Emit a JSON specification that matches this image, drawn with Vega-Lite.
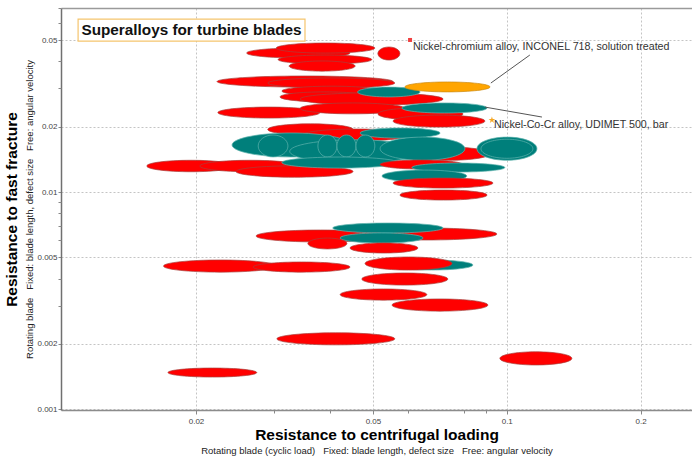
{
  "$schema": "https://vega.github.io/schema/vega-lite/v6.json",
  "width": 631,
  "height": 402,
  "autosize": {"type": "none"},
  "padding": {"left": 61, "top": 8, "right": 0, "bottom": 48},
  "background": "white",
  "config": {
    "font": "Liberation Sans",
    "view": {"stroke": null},
    "axis": {"domain": false, "labelFont": "Liberation Sans", "titleFont": "Liberation Sans"}
  },
  "datasets": {
    "alloys": [
      {"group": "Nickel-chromium alloy", "xlo": 0.0260, "xhi": 0.0444, "ylo": 0.0414, "yhi": 0.0460},
      {"group": "Nickel-chromium alloy", "xlo": 0.0303, "xhi": 0.0505, "ylo": 0.0436, "yhi": 0.0485},
      {"group": "Nickel-chromium alloy", "xlo": 0.0306, "xhi": 0.0497, "ylo": 0.0388, "yhi": 0.0427},
      {"group": "Nickel-chromium alloy", "xlo": 0.0324, "xhi": 0.0456, "ylo": 0.0360, "yhi": 0.0401},
      {"group": "Nickel-chromium alloy", "xlo": 0.0513, "xhi": 0.0575, "ylo": 0.0405, "yhi": 0.0465},
      {"group": "Nickel-chromium alloy", "xlo": 0.0223, "xhi": 0.0555, "ylo": 0.0304, "yhi": 0.0342},
      {"group": "Nickel-chromium alloy", "xlo": 0.0290, "xhi": 0.0560, "ylo": 0.0301, "yhi": 0.0335},
      {"group": "Nickel-chromium alloy", "xlo": 0.0312, "xhi": 0.0524, "ylo": 0.0277, "yhi": 0.0307},
      {"group": "Nickel-chromium alloy", "xlo": 0.0309, "xhi": 0.0492, "ylo": 0.0260, "yhi": 0.0289},
      {"group": "Nickel-chromium alloy", "xlo": 0.0343, "xhi": 0.0719, "ylo": 0.0251, "yhi": 0.0286},
      {"group": "Nickel-Co-Cr alloy", "xlo": 0.0462, "xhi": 0.0638, "ylo": 0.0274, "yhi": 0.0304},
      {"group": "Nickel-chromium alloy", "xlo": 0.0224, "xhi": 0.0380, "ylo": 0.0219, "yhi": 0.0246},
      {"group": "Nickel-chromium alloy", "xlo": 0.0343, "xhi": 0.0590, "ylo": 0.0229, "yhi": 0.0257},
      {"group": "Nickel-chromium alloy", "xlo": 0.0513, "xhi": 0.0797, "ylo": 0.02145, "yhi": 0.0244},
      {"group": "Nickel-chromium alloy", "xlo": 0.0555, "xhi": 0.0893, "ylo": 0.0199, "yhi": 0.0226},
      {"group": "Nickel-Co-Cr alloy", "xlo": 0.0581, "xhi": 0.0903, "ylo": 0.0231, "yhi": 0.0257},
      {"group": "Nickel-chromium alloy", "xlo": 0.0290, "xhi": 0.0451, "ylo": 0.0183, "yhi": 0.0206},
      {"group": "Nickel-chromium alloy", "xlo": 0.0348, "xhi": 0.0606, "ylo": 0.0172, "yhi": 0.0195},
      {"group": "Nickel-Co-Cr alloy", "xlo": 0.0468, "xhi": 0.0708, "ylo": 0.0177, "yhi": 0.0197},
      {"group": "Nickel-chromium alloy", "xlo": 0.0155, "xhi": 0.0245, "ylo": 0.0124, "yhi": 0.0140},
      {"group": "Nickel-chromium alloy", "xlo": 0.0204, "xhi": 0.0343, "ylo": 0.0124, "yhi": 0.0140},
      {"group": "Nickel-chromium alloy", "xlo": 0.0246, "xhi": 0.0451, "ylo": 0.0117, "yhi": 0.0132},
      {"group": "Nickel-Co-Cr alloy", "xlo": 0.0241, "xhi": 0.0444, "ylo": 0.0145, "yhi": 0.0187},
      {"group": "Nickel-Co-Cr alloy", "xlo": 0.0325, "xhi": 0.0638, "ylo": 0.0136, "yhi": 0.0174},
      {"group": "Nickel-Co-Cr alloy", "xlo": 0.0276, "xhi": 0.0322, "ylo": 0.0145, "yhi": 0.0183},
      {"group": "Nickel-Co-Cr alloy", "xlo": 0.0376, "xhi": 0.0415, "ylo": 0.0145, "yhi": 0.0183},
      {"group": "Nickel-Co-Cr alloy", "xlo": 0.0415, "xhi": 0.0458, "ylo": 0.0145, "yhi": 0.0183},
      {"group": "Nickel-Co-Cr alloy", "xlo": 0.0458, "xhi": 0.0505, "ylo": 0.0145, "yhi": 0.0183},
      {"group": "Nickel-Co-Cr alloy", "xlo": 0.0312, "xhi": 0.0569, "ylo": 0.01289, "yhi": 0.01449},
      {"group": "Nickel-chromium alloy", "xlo": 0.0596, "xhi": 0.0917, "ylo": 0.0140, "yhi": 0.0161},
      {"group": "Nickel-Co-Cr alloy", "xlo": 0.0519, "xhi": 0.0805, "ylo": 0.0140, "yhi": 0.0179},
      {"group": "Nickel-Co-Cr alloy", "xlo": 0.0857, "xhi": 0.1169, "ylo": 0.0140, "yhi": 0.0179},
      {"group": "Nickel-Co-Cr alloy", "xlo": 0.0875, "xhi": 0.1145, "ylo": 0.0143, "yhi": 0.0175},
      {"group": "Nickel-chromium alloy", "xlo": 0.0519, "xhi": 0.0797, "ylo": 0.01276, "yhi": 0.01404},
      {"group": "Nickel-Co-Cr alloy", "xlo": 0.0612, "xhi": 0.0990, "ylo": 0.01236, "yhi": 0.0136},
      {"group": "Nickel-Co-Cr alloy", "xlo": 0.0524, "xhi": 0.0813, "ylo": 0.01112, "yhi": 0.01262},
      {"group": "Nickel-chromium alloy", "xlo": 0.0555, "xhi": 0.0931, "ylo": 0.01043, "yhi": 0.0116},
      {"group": "Nickel-chromium alloy", "xlo": 0.0575, "xhi": 0.0903, "ylo": 0.009187, "yhi": 0.01021},
      {"group": "Nickel-chromium alloy", "xlo": 0.0273, "xhi": 0.0532, "ylo": 0.00589, "yhi": 0.006687},
      {"group": "Nickel-chromium alloy", "xlo": 0.0456, "xhi": 0.0950, "ylo": 0.006015, "yhi": 0.00683},
      {"group": "Nickel-Co-Cr alloy", "xlo": 0.0406, "xhi": 0.0719, "ylo": 0.00648, "yhi": 0.0072},
      {"group": "Nickel-Co-Cr alloy", "xlo": 0.0422, "xhi": 0.0648, "ylo": 0.00583, "yhi": 0.00648},
      {"group": "Nickel-chromium alloy", "xlo": 0.0357, "xhi": 0.0437, "ylo": 0.00547, "yhi": 0.00614},
      {"group": "Nickel-chromium alloy", "xlo": 0.0444, "xhi": 0.0631, "ylo": 0.00524, "yhi": 0.00583},
      {"group": "Nickel-chromium alloy", "xlo": 0.0169, "xhi": 0.0304, "ylo": 0.00428, "yhi": 0.004867},
      {"group": "Nickel-chromium alloy", "xlo": 0.0269, "xhi": 0.0444, "ylo": 0.00428, "yhi": 0.004765},
      {"group": "Nickel-Co-Cr alloy", "xlo": 0.0546, "xhi": 0.0839, "ylo": 0.004375, "yhi": 0.004867},
      {"group": "Nickel-chromium alloy", "xlo": 0.0480, "xhi": 0.0753, "ylo": 0.004375, "yhi": 0.005025},
      {"group": "Nickel-chromium alloy", "xlo": 0.0472, "xhi": 0.0737, "ylo": 0.00373, "yhi": 0.00424},
      {"group": "Nickel-chromium alloy", "xlo": 0.0422, "xhi": 0.0661, "ylo": 0.00318, "yhi": 0.00358},
      {"group": "Nickel-chromium alloy", "xlo": 0.0552, "xhi": 0.0907, "ylo": 0.00283, "yhi": 0.00322},
      {"group": "Nickel-chromium alloy", "xlo": 0.0304, "xhi": 0.0560, "ylo": 0.00198, "yhi": 0.00225},
      {"group": "Nickel-chromium alloy", "xlo": 0.0965, "xhi": 0.1401, "ylo": 0.0016, "yhi": 0.00184},
      {"group": "Nickel-chromium alloy", "xlo": 0.0173, "xhi": 0.0274, "ylo": 0.001408, "yhi": 0.001549},
      {"group": "Selected: INCONEL 718", "xlo": 0.0590, "xhi": 0.0917, "ylo": 0.0289, "yhi": 0.0321}
    ],
    "leaders": [
      {"label": "INCONEL 718", "x": 0.1127, "y": 0.04271, "x2": 0.0921, "y2": 0.03174},
      {"label": "UDIMET 500", "x": 0.1200, "y": 0.02214, "x2": 0.0893, "y2": 0.0246}
    ],
    "markers": [
      {"label": "INCONEL 718", "x": 0.0606, "y": 0.0501},
      {"label": "UDIMET 500", "x": 0.0926, "y": 0.02145}
    ],
    "labels": [
      {"text": "Nickel-chromium alloy, INCONEL 718, solution treated", "x": 0.0615, "y": 0.0465},
      {"text": "Nickel-Co-Cr alloy, UDIMET 500, bar", "x": 0.0936, "y": 0.02034}
    ],
    "titlebox": [
      {"title": "Superalloys for turbine blades", "xlo": 0.01086, "xhi": 0.03517, "ylo": 0.04953, "yhi": 0.06253, "tx": 0.01954, "ty": 0.05567}
    ]
  },
  "layer": [
    {
      "data": {"name": "alloys"},
      "mark": {
        "type": "point",
        "filled": true,
        "opacity": 1,
        "size": 4,
        "strokeWidth": 0.7,
        "shape": {"expr": "'M0,' + (scale('y',datum.ylo)-scale('y',datum.yhi))/2 + 'A' + (scale('x',datum.xhi)-scale('x',datum.xlo))/2 + ',' + (scale('y',datum.ylo)-scale('y',datum.yhi))/2 + ',0,1,0,' + (scale('x',datum.xhi)-scale('x',datum.xlo)) + ',' + (scale('y',datum.ylo)-scale('y',datum.yhi))/2 + 'A' + (scale('x',datum.xhi)-scale('x',datum.xlo))/2 + ',' + (scale('y',datum.ylo)-scale('y',datum.yhi))/2 + ',0,1,0,0,' + (scale('y',datum.ylo)-scale('y',datum.yhi))/2 + 'Z'"}
      },
      "encoding": {
        "x": {
          "field": "xlo", "type": "quantitative",
          "scale": {"type": "log", "domain": [0.00994, 0.261], "nice": false},
          "axis": {"values": [0.02, 0.05, 0.1, 0.2], "format": "~g", "labelFontSize": 8, "labelColor": "#444", "tickColor": "#888", "tickSize": 4, "labelPadding": 3, "grid": true, "gridColor": "#c4c4c4", "gridDash": [2, 2], "gridWidth": 1, "domain": true, "domainColor": "#8c8c8c", "domainWidth": 1.5, "title": "Resistance to centrifugal loading", "titleFontSize": 15.5, "titleFontWeight": "bold", "titleColor": "#000", "titlePadding": 2}
        },
        "y": {
          "field": "yhi", "type": "quantitative",
          "scale": {"type": "log", "domain": [0.000993, 0.0703], "nice": false},
          "axis": {"values": [0.001, 0.002, 0.005, 0.01, 0.02, 0.05], "format": "~g", "labelFontSize": 8, "labelColor": "#444", "tickColor": "#888", "tickSize": 3, "labelPadding": 1, "grid": true, "gridColor": "#c4c4c4", "gridDash": [2, 2], "gridWidth": 1, "domain": true, "domainColor": "#707070", "domainWidth": 1.5, "title": "Resistance to fast fracture", "titleFontSize": 15.5, "titleFontWeight": "bold", "titleColor": "#000", "titlePadding": 17}
        },
        "fill": {
          "field": "group", "type": "nominal", "legend": null,
          "scale": {"domain": ["Nickel-chromium alloy", "Nickel-Co-Cr alloy", "Selected: INCONEL 718"], "range": ["#ff0000", "#007f7b", "#ffa500"]}
        },
        "stroke": {
          "field": "group", "type": "nominal", "legend": null,
          "scale": {"domain": ["Nickel-chromium alloy", "Nickel-Co-Cr alloy", "Selected: INCONEL 718"], "range": ["#a8403c", "#5fb3ad", "#cc8a10"]}
        }
      }
    },
    {
      "data": {"name": "leaders"},
      "mark": {"type": "rule", "color": "#555", "strokeWidth": 1},
      "encoding": {
        "x": {
          "field": "x", "type": "quantitative",
          "axis": {"orient": "bottom", "values": [0.03, 0.04, 0.06, 0.08, 0.09], "labels": false, "ticks": true, "tickSize": 3, "tickColor": "#888", "grid": false, "domain": false, "title": "Rotating blade (cyclic load)\u00a0\u00a0\u00a0Fixed: blade length, defect size\u00a0\u00a0\u00a0Free: angular velocity", "titleFontSize": 9.5, "titleFontWeight": "normal", "titleColor": "#222", "titlePadding": 32}
        },
        "y": {
          "field": "y", "type": "quantitative",
          "axis": {"orient": "left", "values": [0.003, 0.004, 0.006, 0.007, 0.008, 0.009, 0.03, 0.04, 0.06, 0.07], "labels": false, "ticks": true, "tickSize": 3, "tickColor": "#888", "grid": false, "domain": false, "title": "Rotating blade\u00a0\u00a0\u00a0Fixed: blade length, defect size\u00a0\u00a0\u00a0Free: angular velocity", "titleFontSize": 9.5, "titleFontWeight": "normal", "titleColor": "#222", "titlePadding": 23.5}
        },
        "x2": {"field": "x2"},
        "y2": {"field": "y2"}
      }
    },
    {
      "data": {"name": "markers"},
      "mark": {"type": "point", "filled": true, "opacity": 1},
      "encoding": {
        "x": {"field": "x", "type": "quantitative", "axis": {"orient": "top", "labels": false, "ticks": false, "grid": false, "domain": true, "domainColor": "#9a9a9a", "domainWidth": 1.5, "title": null}},
        "y": {"field": "y", "type": "quantitative", "axis": null},
        "shape": {"field": "label", "type": "nominal", "legend": null, "scale": {"domain": ["INCONEL 718", "UDIMET 500"], "range": ["square", "M0,-1L0.2245,-0.309L0.951,-0.309L0.363,0.118L0.588,0.809L0,0.382L-0.588,0.809L-0.363,0.118L-0.951,-0.309L-0.2245,-0.309Z"]}},
        "fill": {"field": "label", "type": "nominal", "legend": null, "scale": {"domain": ["INCONEL 718", "UDIMET 500"], "range": ["#f04040", "#f5a623"]}},
        "size": {"field": "label", "type": "nominal", "legend": null, "scale": {"domain": ["INCONEL 718", "UDIMET 500"], "range": [16, 50]}}
      }
    },
    {
      "data": {"name": "labels"},
      "mark": {"type": "text", "align": "left", "baseline": "middle", "fontSize": 10.7, "color": "#333", "font": "Liberation Sans"},
      "encoding": {
        "x": {"field": "x", "type": "quantitative", "axis": null},
        "y": {"field": "y", "type": "quantitative", "axis": null},
        "text": {"field": "text"}
      }
    },
    {
      "data": {"name": "titlebox"},
      "mark": {"type": "rect", "fill": "white", "stroke": "#f5c56e", "strokeWidth": 1.2},
      "encoding": {
        "x": {"field": "xlo", "type": "quantitative", "axis": null},
        "x2": {"field": "xhi"},
        "y": {"field": "ylo", "type": "quantitative", "axis": null},
        "y2": {"field": "yhi"}
      }
    },
    {
      "data": {"name": "titlebox"},
      "mark": {"type": "text", "align": "center", "baseline": "middle", "fontSize": 15.3, "fontWeight": "bold", "color": "#111", "font": "Liberation Sans"},
      "encoding": {
        "x": {"field": "tx", "type": "quantitative", "axis": null},
        "y": {"field": "ty", "type": "quantitative", "axis": null},
        "text": {"field": "title"}
      }
    }
  ],
  "resolve": {
    "axis": {"x": "independent", "y": "independent"},
    "scale": {"fill": "independent", "shape": "independent", "size": "independent"}
  }
}
